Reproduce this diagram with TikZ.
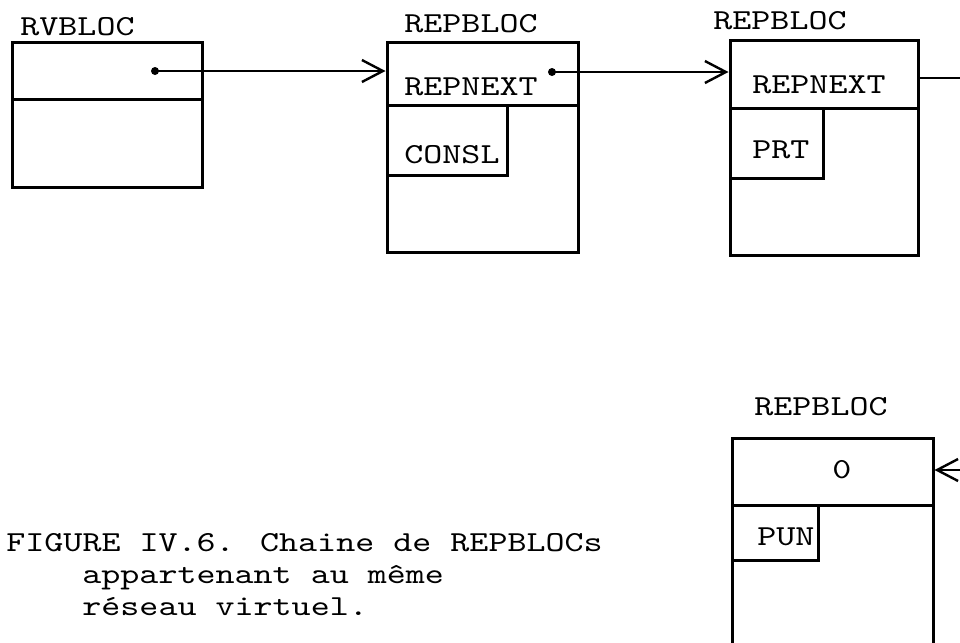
\documentclass[tikz,border=0pt]{standalone}
\usepackage{fontspec}
\newfontfamily\tw[FakeStretch=1.25]{lmmono10-regular.otf}
\usetikzlibrary{arrows.meta}
\begin{document}
\begin{tikzpicture}[x=0.5pt,y=-0.5pt,
  blk/.style={draw, line width=1.5pt, inner sep=0pt, rectangle},
  lbl/.style={inner sep=0pt, anchor=base west, font=\tw\fontsize{14.5}{17}\selectfont},
  link/.style={line width=1.2pt, -{Straight Barb[length=10.5pt,width=11pt,line width=1.2pt]}},
  plain/.style={line width=1.2pt},
  part/.style={line width=1.5pt},
  dot/.style={circle, fill, inner sep=0pt, minimum size=4pt}]
\clip (0,0) rectangle (960,643);
\fill[white] (0,0) rectangle (960,643);

% boxes
\node[blk, minimum width=95pt, minimum height=72.5pt] (rv) at (107,114.5) {};
\node[blk, minimum width=95.5pt, minimum height=105pt] (rep1) at (482.5,147) {};
\node[blk, minimum width=94pt, minimum height=107.5pt] (rep2) at (824,147.5) {};
\node[blk, minimum width=100.5pt, minimum height=111pt] (rep3) at (832.5,549) {};

% dividers and inner fields
\draw[part] (12,99) -- (202,99);
\draw[part] (387,105) -- (578,105);
\draw[part] (507,105) -- (507,175) -- (387,175);
\draw[part] (730,108) -- (918,108);
\draw[part] (823,108) -- (823,178) -- (730,178);
\draw[part] (732,505) -- (933,505);
\draw[part] (818,505) -- (818,560) -- (732,560);

% labels
\node[lbl] (lrv) at (20,35) {RVBLOC};
\node[lbl] (lr1) at (404,32) {REPBLOC};
\node[lbl] (n1) at (404,95) {REPNEXT};
\node[lbl] (c1) at (404,163) {CONSL};
\node[lbl] (lr2) at (713,29) {REPBLOC};
\node[lbl] (n2) at (752,93) {REPNEXT};
\node[lbl] (p2) at (752,158) {PRT};
\node[lbl] (lr3) at (754,415) {REPBLOC};
\node[lbl, anchor=base] (z3) at (842,478) {0};
\node[lbl] (p3) at (757,545) {PUN};

% connectors
\node[dot] (d1) at (155,71) {};
\node[dot] (d2) at (552,72) {};
\coordinate (out2) at (960,78);
\coordinate (in3) at (960,470);
\draw[link] (d1.center) -- (d1.center -| rep1.west);
\draw[link] (d2.center) -- (d2.center -| rep2.west);
\draw[plain] (out2 -| rep2.east) -- (out2);
\draw[link] (in3) -- (in3 -| rep3.east);

% caption
\node[lbl] (cap1) at (6,551) {FIGURE IV.6. Chaine de REPBLOCs};
\node[lbl] (cap2) at (82,583) {appartenant au même};
\node[lbl] (cap3) at (82,615) {réseau virtuel.};
\end{tikzpicture}
\end{document}
